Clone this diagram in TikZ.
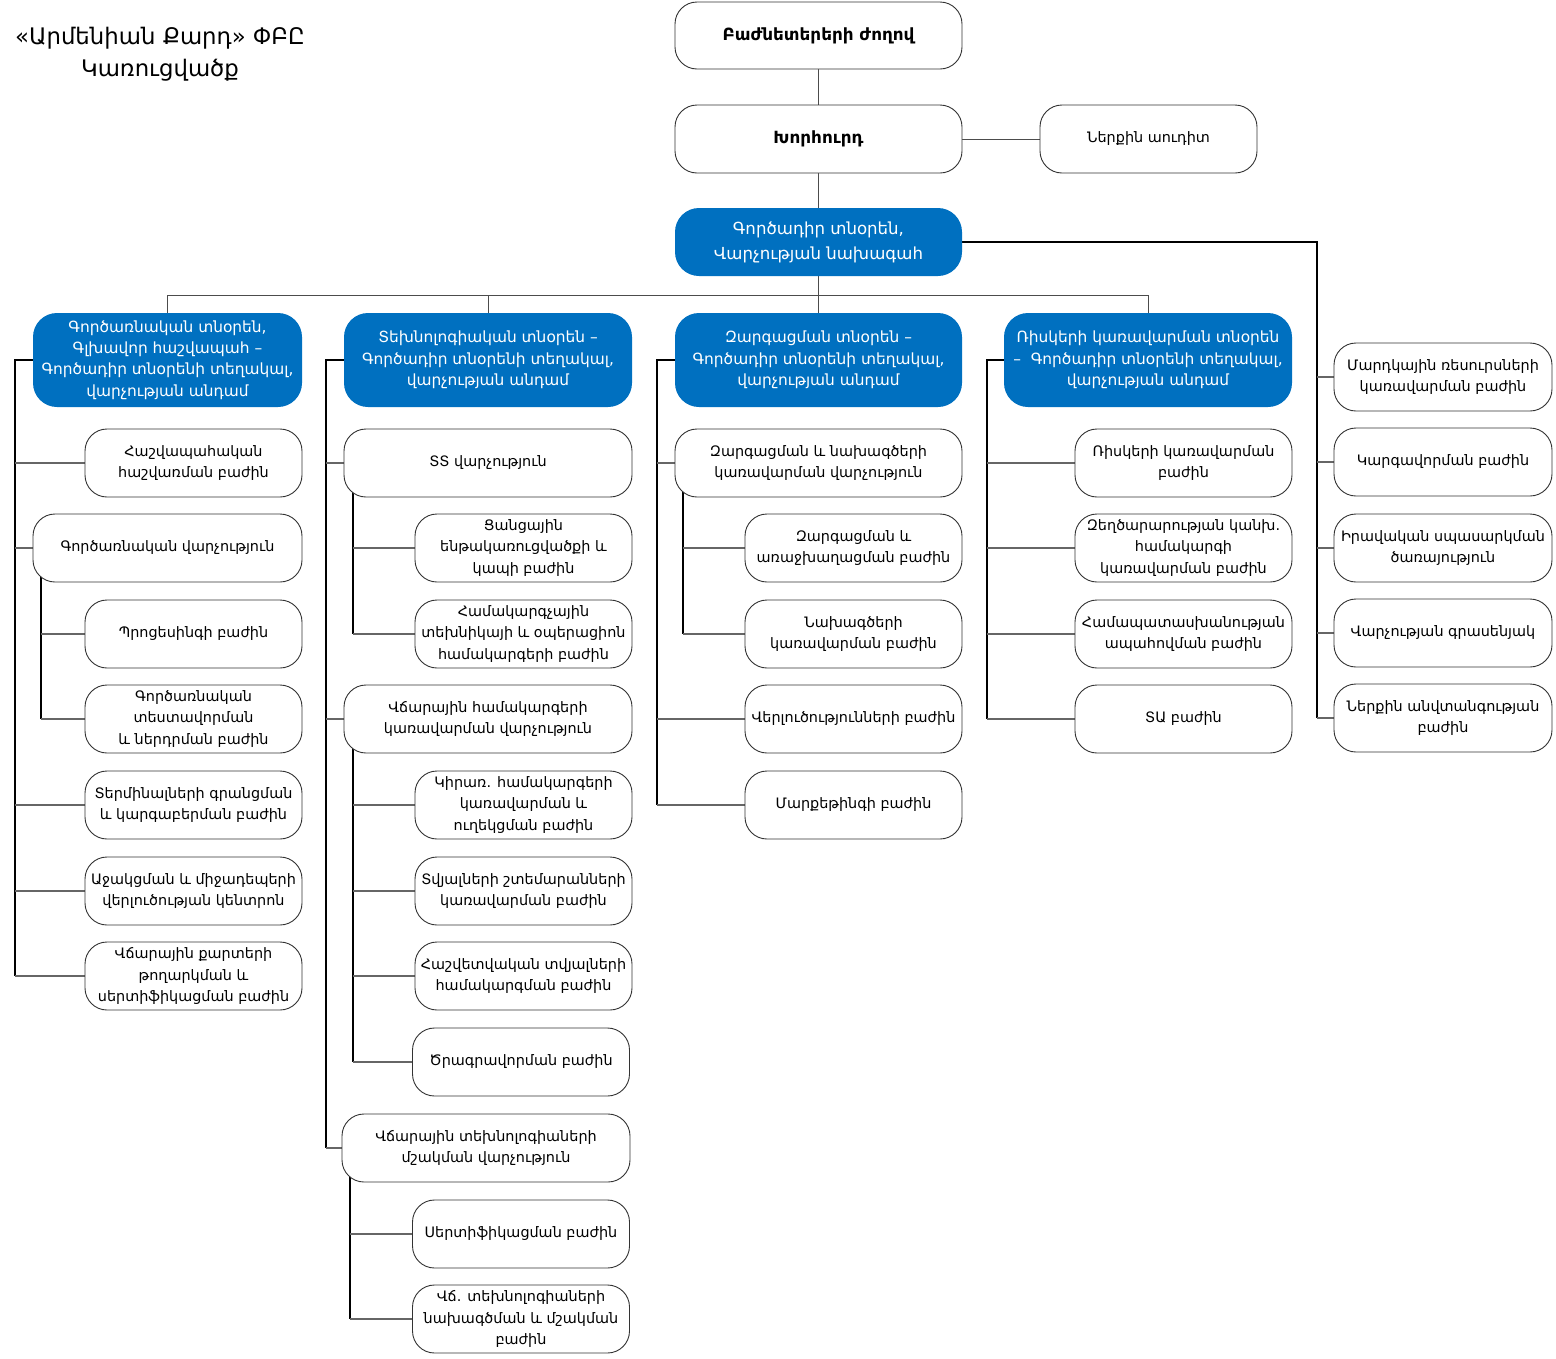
\documentclass[tikz,border=0pt]{standalone}
\usepackage{fontspec}
\setmainfont{DejaVu Sans}
\usetikzlibrary{backgrounds}
\definecolor{hdblue}{HTML}{0070C0}
\newcommand{\nf}{\fontsize{14.4}{21.5}\selectfont}
\newcommand{\bnf}{\fontsize{16.8}{21}\selectfont\bfseries}
\newcommand{\hf}{\fontsize{15.4}{21.3}\selectfont}
\newcommand{\cf}{\fontsize{16.6}{25}\selectfont}
\newcommand{\ttlf}{\fontsize{22.8}{32}\selectfont}
\tikzset{
  box/.style={draw=black!80, line width=0.9pt, rounded corners=22pt, fill=white,
    align=center, font=\nf, inner sep=0pt, minimum height=68pt, minimum width=217pt},
  hbox/.style={fill=hdblue, text=white, rounded corners=24pt, align=center, font=\hf,
    inner sep=0pt, minimum height=94pt},
  trunk/.style={draw=black, line width=1.6pt},
  sub/.style={draw=black, line width=1.3pt},
  branch/.style={draw=black!60, line width=1.3pt},
  thin/.style={draw=black!70, line width=0.9pt}
}
\begin{document}
\begin{tikzpicture}[x=1pt,y=-1pt]
\useasboundingbox (0,0) rectangle (1556,1358);
\node[align=center, font=\ttlf] (title) at (160,54) {«Արմենիան Քարդ» ՓԲԸ\\Կառուցվածք};

% top
\node[box, font=\bnf, minimum width=287pt, minimum height=67pt] (agm) at (818.5,35.5) {Բաժնետերերի ժողով};
\node[box, font=\bnf, minimum width=287pt] (board) at (818.5,139) {Խորհուրդ};
\node[box] (audit) at (1148.5,139) {Ներքին աուդիտ};
\node[hbox, font=\cf, minimum width=287pt, minimum height=68pt] (ceo) at (818.5,242) {Գործադիր տնօրեն,\\Վարչության նախագահ};

% headers
\node[hbox, minimum width=269pt] (h1) at (167.5,360) {Գործառնական տնօրեն,\\Գլխավոր հաշվապահ –\\Գործադիր տնօրենի տեղակալ,\\վարչության անդամ};
\node[hbox, minimum width=288pt] (h2) at (488,360) {Տեխնոլոգիական տնօրեն –\\Գործադիր տնօրենի տեղակալ,\\վարչության անդամ};
\node[hbox, minimum width=287pt] (h3) at (818.5,360) {Զարգացման տնօրեն –\\Գործադիր տնօրենի տեղակալ,\\վարչության անդամ};
\node[hbox, minimum width=288pt] (h4) at (1148,360) {Ռիսկերի կառավարման տնօրեն\\–\ \ Գործադիր տնօրենի տեղակալ,\\վարչության անդամ};

% column 1
\node[box] (a1) at (193.5,463) {Հաշվապահական\\հաշվառման բաժին};
\node[box, minimum width=269pt] (a2) at (167.5,548) {Գործառնական վարչություն};
\node[box] (a3) at (193.5,634) {Պրոցեսինգի բաժին};
\node[box] (a4) at (193.5,719) {Գործառնական\\տեստավորման\\և ներդրման բաժին};
\node[box] (a5) at (193.5,805) {Տերմինալների գրանցման\\և կարգաբերման բաժին};
\node[box] (a6) at (193.5,891) {Աջակցման և միջադեպերի\\վերլուծության կենտրոն};
\node[box] (a7) at (193.5,976) {Վճարային քարտերի\\թողարկման և\\սերտիֆիկացման բաժին};

% column 2
\node[box, minimum width=288pt] (b1) at (488,463) {ՏՏ վարչություն};
\node[box] (b2) at (523.5,548) {Ցանցային\\ենթակառուցվածքի և\\կապի բաժին};
\node[box] (b3) at (523.5,634) {Համակարգչային\\տեխնիկայի և օպերացիոն\\համակարգերի բաժին};
\node[box, minimum width=288pt] (b4) at (488,719) {Վճարային համակարգերի\\կառավարման վարչություն};
\node[box] (b5) at (523.5,805) {Կիրառ. համակարգերի\\կառավարման և\\ուղեկցման բաժին};
\node[box] (b6) at (523.5,891) {Տվյալների շտեմարանների\\կառավարման բաժին};
\node[box] (b7) at (523.5,976) {Հաշվետվական տվյալների\\համակարգման բաժին};
\node[box] (b8) at (521,1062) {Ծրագրավորման բաժին};
\node[box, minimum width=288pt] (b9) at (486,1148) {Վճարային տեխնոլոգիաների\\մշակման վարչություն};
\node[box] (b10) at (521,1234) {Սերտիֆիկացման բաժին};
\node[box] (b11) at (521,1319) {Վճ. տեխնոլոգիաների\\նախագծման և մշակման\\բաժին};

% column 3
\node[box, minimum width=287pt] (c1) at (818.5,463) {Զարգացման և նախագծերի\\կառավարման վարչություն};
\node[box] (c2) at (853.5,548) {Զարգացման և\\առաջխաղացման բաժին};
\node[box] (c3) at (853.5,634) {Նախագծերի\\կառավարման բաժին};
\node[box] (c4) at (853.5,719) {Վերլուծությունների բաժին};
\node[box] (c5) at (853.5,805) {Մարքեթինգի բաժին};

% column 4
\node[box] (d1) at (1183.5,463) {Ռիսկերի կառավարման\\բաժին};
\node[box] (d2) at (1183.5,548) {Զեղծարարության կանխ.\\համակարգի\\կառավարման բաժին};
\node[box] (d3) at (1183.5,634) {Համապատասխանության\\ապահովման բաժին};
\node[box] (d4) at (1183.5,719) {ՏԱ բաժին};

% column 5
\node[box, minimum width=218pt] (e1) at (1443,377) {Մարդկային ռեսուրսների\\կառավարման բաժին};
\node[box, minimum width=218pt] (e2) at (1443,462) {Կարգավորման բաժին};
\node[box, minimum width=218pt] (e3) at (1443,548) {Իրավական սպասարկման\\ծառայություն};
\node[box, minimum width=218pt] (e4) at (1443,633) {Վարչության գրասենյակ};
\node[box, minimum width=218pt] (e5) at (1443,718) {Ներքին անվտանգության\\բաժին};

\coordinate (bus) at (0,295);
\coordinate (t1) at (15,0);
\coordinate (s1) at (41,0);
\coordinate (t2) at (326,0);
\coordinate (s2) at (353,0);
\coordinate (s2b) at (350,0);
\coordinate (t3) at (657,0);
\coordinate (s3) at (683,0);
\coordinate (t4) at (987,0);
\coordinate (t5) at (1317,0);

\begin{scope}[on background layer]
  % top
  \draw[thin] (agm) -- (board);
  \draw[thin] (board) -- (ceo);
  \draw[thin] (board) -- (audit);
  \draw[thin] (ceo.south) -- (ceo.south |- bus);
  \draw[thin] (h1.north |- bus) -- (h4.north |- bus);
  \foreach \h in {h1,h2,h3,h4} \draw[thin] (\h.north |- bus) -- (\h.north);
  % column 5
  \draw[trunk] (ceo.east) -- (ceo.east -| t5) -- (t5 |- e5.west);
  \foreach \n in {e1,e2,e3,e4,e5} \draw[branch] (t5 |- \n.west) -- (\n.west);
  % column 1
  \draw[trunk] (h1.west) -- (h1.west -| t1) -- (t1 |- a7.west);
  \foreach \n in {a1,a2,a5,a6,a7} \draw[branch] (t1 |- \n.west) -- (\n.west);
  \draw[sub] (s1 |- a2.center) -- (s1 |- a4.west);
  \foreach \n in {a3,a4} \draw[branch] (s1 |- \n.west) -- (\n.west);
  % column 2
  \draw[trunk] (h2.west) -- (h2.west -| t2) -- (t2 |- b9.west);
  \foreach \n in {b1,b4,b9} \draw[branch] (t2 |- \n.west) -- (\n.west);
  \draw[sub] (s2 |- b1.center) -- (s2 |- b3.west);
  \foreach \n in {b2,b3} \draw[branch] (s2 |- \n.west) -- (\n.west);
  \draw[sub] (s2 |- b4.center) -- (s2 |- b8.west);
  \foreach \n in {b5,b6,b7,b8} \draw[branch] (s2 |- \n.west) -- (\n.west);
  \draw[sub] (s2b |- b9.center) -- (s2b |- b11.west);
  \foreach \n in {b10,b11} \draw[branch] (s2b |- \n.west) -- (\n.west);
  % column 3
  \draw[trunk] (h3.west) -- (h3.west -| t3) -- (t3 |- c5.west);
  \foreach \n in {c1,c4,c5} \draw[branch] (t3 |- \n.west) -- (\n.west);
  \draw[sub] (s3 |- c1.center) -- (s3 |- c3.west);
  \foreach \n in {c2,c3} \draw[branch] (s3 |- \n.west) -- (\n.west);
  % column 4
  \draw[trunk] (h4.west) -- (h4.west -| t4) -- (t4 |- d4.west);
  \foreach \n in {d1,d2,d3,d4} \draw[branch] (t4 |- \n.west) -- (\n.west);
\end{scope}
\end{tikzpicture}
\end{document}
